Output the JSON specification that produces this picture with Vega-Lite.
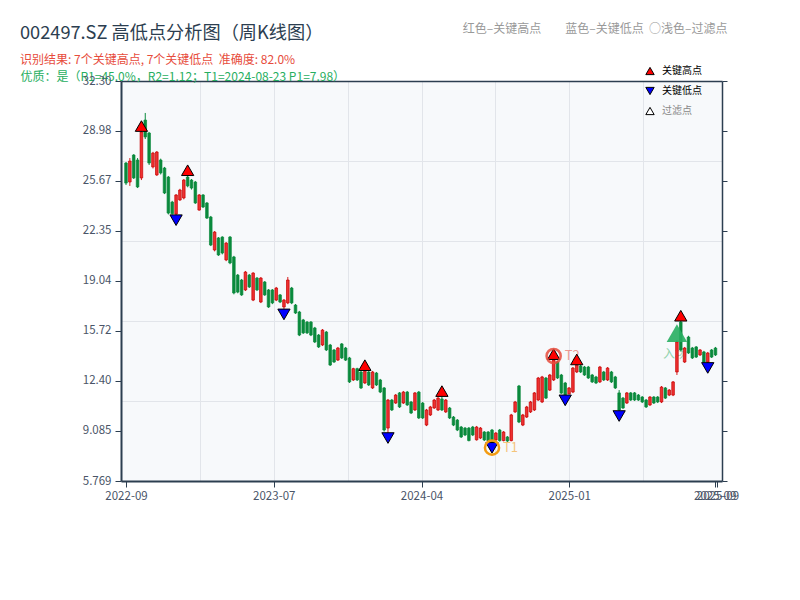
{
  "$schema": "https://vega.github.io/schema/vega-lite/v6.json",
  "width": 601,
  "height": 400,
  "autosize": {"type": "none"},
  "padding": {"left": 121, "top": 81, "right": 78, "bottom": 119},
  "background": "#ffffff",
  "config": {
    "font": "Noto Sans CJK SC",
    "view": {"fill": "#f7f9fb", "stroke": null},
    "axis": {"labelFont": "Noto Sans CJK SC", "titleFont": "Noto Sans CJK SC"}
  },
  "title": {
    "text": "002497.SZ 高低点分析图（周K线图）",
    "subtitle": "识别结果: 7个关键高点, 7个关键低点\u00a0\u00a0准确度: 82.0%",
    "anchor": "start",
    "frame": "group",
    "dx": -101,
    "dy": 60,
    "offset": 15,
    "font": "Noto Sans CJK SC",
    "fontSize": 18.2,
    "fontWeight": "normal",
    "color": "#2c3e50",
    "subtitleFont": "Noto Sans CJK SC",
    "subtitleFontSize": 12,
    "subtitleColor": "#e74c3c",
    "subtitlePadding": 12
  },
  "datasets": {
    "k": [
      {"i":0,"o":26.86,"h":26.93,"l":25.4,"c":25.53},
      {"i":1,"o":25.6,"h":27.19,"l":25.34,"c":26.99},
      {"i":2,"o":27.39,"h":27.45,"l":25.8,"c":25.87},
      {"i":3,"o":27.06,"h":27.19,"l":25.2,"c":25.27},
      {"i":4,"o":25.87,"h":28.98,"l":25.73,"c":28.92},
      {"i":5,"o":29.71,"h":30.18,"l":28.45,"c":28.59},
      {"i":6,"o":28.85,"h":28.92,"l":26.73,"c":26.86},
      {"i":7,"o":26.6,"h":27.6,"l":26.5,"c":27.52},
      {"i":8,"o":26.07,"h":27.65,"l":26.0,"c":27.59},
      {"i":9,"o":27.06,"h":27.15,"l":26.1,"c":26.2},
      {"i":10,"o":26.53,"h":26.6,"l":24.8,"c":24.87},
      {"i":11,"o":25.93,"h":26.0,"l":23.45,"c":23.54},
      {"i":12,"o":24.27,"h":24.35,"l":23.45,"c":23.5},
      {"i":13,"o":23.48,"h":24.8,"l":23.4,"c":24.74},
      {"i":14,"o":24.41,"h":25.15,"l":24.35,"c":25.07},
      {"i":15,"o":24.54,"h":25.8,"l":24.45,"c":25.73},
      {"i":16,"o":25.93,"h":26.05,"l":25.25,"c":25.34},
      {"i":17,"o":25.73,"h":25.8,"l":25.1,"c":25.2},
      {"i":18,"o":25.6,"h":25.67,"l":24.15,"c":24.21},
      {"i":19,"o":23.74,"h":24.8,"l":23.7,"c":24.74},
      {"i":20,"o":24.74,"h":24.8,"l":23.88,"c":23.94},
      {"i":21,"o":24.21,"h":24.27,"l":23.15,"c":23.21},
      {"i":22,"o":23.28,"h":23.35,"l":21.35,"c":21.42},
      {"i":23,"o":21.09,"h":22.35,"l":21.0,"c":22.28},
      {"i":24,"o":21.89,"h":21.95,"l":20.7,"c":20.76},
      {"i":25,"o":21.95,"h":22.0,"l":20.8,"c":20.89},
      {"i":26,"o":20.43,"h":21.62,"l":20.35,"c":21.55},
      {"i":27,"o":21.95,"h":22.02,"l":20.15,"c":20.23},
      {"i":28,"o":20.63,"h":20.7,"l":18.15,"c":18.24},
      {"i":29,"o":19.43,"h":19.5,"l":18.22,"c":18.3},
      {"i":30,"o":19.1,"h":19.17,"l":18.05,"c":18.11},
      {"i":31,"o":18.44,"h":19.7,"l":18.37,"c":19.63},
      {"i":32,"o":19.43,"h":19.5,"l":18.57,"c":18.64},
      {"i":33,"o":17.77,"h":19.62,"l":17.7,"c":19.56},
      {"i":34,"o":19.23,"h":19.3,"l":18.37,"c":18.44},
      {"i":35,"o":17.64,"h":19.3,"l":17.57,"c":19.23},
      {"i":36,"o":18.97,"h":19.03,"l":18.05,"c":18.11},
      {"i":37,"o":18.44,"h":18.5,"l":17.25,"c":17.31},
      {"i":38,"o":18.44,"h":18.5,"l":17.5,"c":17.58},
      {"i":39,"o":17.77,"h":18.64,"l":17.7,"c":18.57},
      {"i":40,"o":18.11,"h":18.17,"l":17.57,"c":17.64},
      {"i":41,"o":17.31,"h":17.84,"l":17.15,"c":17.77},
      {"i":42,"o":17.58,"h":19.3,"l":17.5,"c":19.1},
      {"i":43,"o":18.57,"h":18.64,"l":17.5,"c":17.58},
      {"i":44,"o":17.44,"h":17.51,"l":16.85,"c":16.91},
      {"i":45,"o":16.98,"h":17.05,"l":15.38,"c":15.45},
      {"i":46,"o":16.45,"h":16.52,"l":15.52,"c":15.59},
      {"i":47,"o":16.31,"h":16.38,"l":15.52,"c":15.59},
      {"i":48,"o":16.31,"h":16.38,"l":15.38,"c":15.45},
      {"i":49,"o":15.92,"h":15.99,"l":14.92,"c":14.99},
      {"i":50,"o":15.45,"h":15.52,"l":14.59,"c":14.66},
      {"i":51,"o":14.79,"h":15.85,"l":14.72,"c":15.78},
      {"i":52,"o":15.65,"h":15.72,"l":14.39,"c":14.46},
      {"i":53,"o":14.79,"h":14.86,"l":13.4,"c":13.46},
      {"i":54,"o":14.46,"h":14.52,"l":13.6,"c":13.66},
      {"i":55,"o":13.79,"h":14.66,"l":13.73,"c":14.59},
      {"i":56,"o":14.86,"h":14.92,"l":13.86,"c":13.93},
      {"i":57,"o":14.59,"h":14.66,"l":13.73,"c":13.79},
      {"i":58,"o":13.93,"h":14.0,"l":12.27,"c":12.34},
      {"i":59,"o":12.47,"h":13.28,"l":12.4,"c":13.22},
      {"i":60,"o":13.22,"h":13.28,"l":12.4,"c":12.47},
      {"i":61,"o":13.0,"h":13.07,"l":11.87,"c":11.94},
      {"i":62,"o":12.27,"h":13.12,"l":12.2,"c":13.05},
      {"i":63,"o":13.0,"h":13.07,"l":12.07,"c":12.14},
      {"i":64,"o":11.94,"h":13.07,"l":11.87,"c":13.0},
      {"i":65,"o":12.93,"h":13.0,"l":12.07,"c":12.14},
      {"i":66,"o":12.47,"h":12.54,"l":11.6,"c":11.67},
      {"i":67,"o":11.94,"h":12.0,"l":9.05,"c":9.15},
      {"i":68,"o":9.28,"h":11.21,"l":8.95,"c":11.14},
      {"i":69,"o":11.14,"h":11.21,"l":10.41,"c":10.48},
      {"i":70,"o":10.94,"h":11.54,"l":10.88,"c":11.47},
      {"i":71,"o":11.61,"h":11.67,"l":10.61,"c":10.68},
      {"i":72,"o":10.94,"h":11.74,"l":10.88,"c":11.67},
      {"i":73,"o":11.67,"h":11.74,"l":10.75,"c":10.81},
      {"i":74,"o":11.01,"h":11.08,"l":10.21,"c":10.28},
      {"i":75,"o":10.48,"h":11.67,"l":10.41,"c":11.61},
      {"i":76,"o":11.67,"h":11.74,"l":9.88,"c":9.95},
      {"i":77,"o":10.94,"h":11.01,"l":9.88,"c":9.95},
      {"i":78,"o":9.48,"h":10.55,"l":9.41,"c":10.48},
      {"i":79,"o":10.15,"h":10.75,"l":10.08,"c":10.68},
      {"i":80,"o":10.61,"h":11.21,"l":10.55,"c":11.14},
      {"i":81,"o":10.48,"h":11.34,"l":10.41,"c":11.27},
      {"i":82,"o":11.21,"h":11.4,"l":10.41,"c":10.48},
      {"i":83,"o":10.35,"h":11.21,"l":10.28,"c":11.14},
      {"i":84,"o":10.61,"h":10.68,"l":9.88,"c":9.95},
      {"i":85,"o":10.01,"h":10.08,"l":9.41,"c":9.48},
      {"i":86,"o":9.81,"h":9.88,"l":9.08,"c":9.15},
      {"i":87,"o":9.35,"h":9.42,"l":8.62,"c":8.69},
      {"i":88,"o":9.28,"h":9.35,"l":8.75,"c":8.82},
      {"i":89,"o":9.28,"h":9.35,"l":8.4,"c":8.45},
      {"i":90,"o":9.35,"h":9.42,"l":8.75,"c":8.82},
      {"i":91,"o":8.5,"h":9.42,"l":8.45,"c":9.35},
      {"i":92,"o":8.62,"h":9.35,"l":8.55,"c":9.28},
      {"i":93,"o":9.02,"h":9.08,"l":8.42,"c":8.49},
      {"i":94,"o":9.02,"h":9.08,"l":8.4,"c":8.45},
      {"i":95,"o":9.15,"h":9.22,"l":8.3,"c":8.36},
      {"i":96,"o":8.49,"h":9.02,"l":8.42,"c":8.95},
      {"i":97,"o":9.15,"h":9.22,"l":8.38,"c":8.45},
      {"i":98,"o":8.45,"h":9.08,"l":8.4,"c":9.02},
      {"i":99,"o":8.69,"h":8.75,"l":8.36,"c":8.42},
      {"i":100,"o":8.45,"h":10.22,"l":8.4,"c":10.15},
      {"i":101,"o":10.35,"h":11.08,"l":10.28,"c":11.01},
      {"i":102,"o":12.07,"h":12.14,"l":9.61,"c":9.68},
      {"i":103,"o":9.48,"h":10.22,"l":9.41,"c":10.15},
      {"i":104,"o":10.01,"h":10.75,"l":9.95,"c":10.68},
      {"i":105,"o":10.35,"h":11.08,"l":10.28,"c":11.01},
      {"i":106,"o":10.48,"h":11.67,"l":10.41,"c":11.61},
      {"i":107,"o":11.14,"h":12.67,"l":11.08,"c":12.6},
      {"i":108,"o":11.01,"h":12.74,"l":10.94,"c":12.67},
      {"i":109,"o":12.6,"h":12.67,"l":11.21,"c":11.27},
      {"i":110,"o":11.8,"h":12.87,"l":11.74,"c":12.8},
      {"i":111,"o":12.47,"h":13.85,"l":12.4,"c":13.8},
      {"i":112,"o":13.66,"h":13.73,"l":12.54,"c":12.6},
      {"i":113,"o":12.8,"h":12.87,"l":11.55,"c":11.6},
      {"i":114,"o":12.27,"h":12.34,"l":11.45,"c":11.5},
      {"i":115,"o":11.55,"h":12.0,"l":11.52,"c":11.94},
      {"i":116,"o":11.67,"h":13.33,"l":11.6,"c":13.26},
      {"i":117,"o":13.0,"h":13.5,"l":12.93,"c":13.46},
      {"i":118,"o":13.4,"h":13.46,"l":12.93,"c":13.0},
      {"i":119,"o":13.33,"h":13.4,"l":12.74,"c":12.8},
      {"i":120,"o":13.33,"h":13.4,"l":12.54,"c":12.6},
      {"i":121,"o":12.8,"h":12.87,"l":12.27,"c":12.34},
      {"i":122,"o":12.67,"h":12.74,"l":12.2,"c":12.27},
      {"i":123,"o":12.34,"h":13.4,"l":12.27,"c":13.33},
      {"i":124,"o":13.0,"h":13.07,"l":12.4,"c":12.47},
      {"i":125,"o":12.47,"h":13.33,"l":12.4,"c":13.26},
      {"i":126,"o":13.0,"h":13.07,"l":12.27,"c":12.34},
      {"i":127,"o":12.67,"h":12.74,"l":11.87,"c":11.94},
      {"i":128,"o":11.61,"h":11.8,"l":10.41,"c":10.48},
      {"i":129,"o":11.27,"h":11.34,"l":10.55,"c":10.61},
      {"i":130,"o":10.94,"h":11.67,"l":10.88,"c":11.61},
      {"i":131,"o":11.61,"h":11.67,"l":11.08,"c":11.14},
      {"i":132,"o":11.61,"h":11.67,"l":11.08,"c":11.14},
      {"i":133,"o":11.47,"h":11.54,"l":11.08,"c":11.14},
      {"i":134,"o":11.34,"h":11.4,"l":10.94,"c":11.01},
      {"i":135,"o":11.14,"h":11.21,"l":10.61,"c":10.68},
      {"i":136,"o":10.81,"h":11.4,"l":10.75,"c":11.34},
      {"i":137,"o":11.34,"h":11.4,"l":10.88,"c":10.94},
      {"i":138,"o":11.34,"h":11.4,"l":10.94,"c":11.01},
      {"i":139,"o":11.01,"h":12.07,"l":10.94,"c":12.0},
      {"i":140,"o":11.94,"h":12.0,"l":11.21,"c":11.27},
      {"i":141,"o":11.47,"h":11.87,"l":11.4,"c":11.8},
      {"i":142,"o":11.47,"h":12.4,"l":11.4,"c":12.34},
      {"i":143,"o":13.0,"h":15.1,"l":12.8,"c":14.99},
      {"i":144,"o":16.31,"h":16.4,"l":14.39,"c":14.46},
      {"i":145,"o":13.66,"h":14.66,"l":13.6,"c":14.59},
      {"i":146,"o":15.32,"h":15.4,"l":14.2,"c":14.26},
      {"i":147,"o":14.59,"h":14.66,"l":13.86,"c":13.93},
      {"i":148,"o":14.66,"h":14.72,"l":13.93,"c":13.99},
      {"i":149,"o":14.13,"h":14.52,"l":14.06,"c":14.46},
      {"i":150,"o":14.33,"h":14.4,"l":13.62,"c":13.66},
      {"i":151,"o":13.66,"h":14.33,"l":13.6,"c":14.26},
      {"i":152,"o":14.46,"h":14.52,"l":13.93,"c":13.99},
      {"i":153,"o":14.59,"h":14.66,"l":14.06,"c":14.13}
    ]
  },
  "resolve": {"axis": {"x": "independent", "y": "independent"}},
  "layer": [
    {
      "data": {"values": [{"i":95,"p":7.98,"t":"T1"},{"i":111,"p":14.06,"t":"T2"}]},
      "mark": {"type": "text", "align": "left", "baseline": "middle", "dx": 11, "fontSize": 13, "opacity": 0.55},
      "encoding": {
        "x": {"field": "i", "type": "quantitative", "scale": {"domain": [0, 153.4], "nice": false, "zero": false}, "axis": null},
        "y": {"field": "p", "type": "quantitative", "scale": {"domain": [5.769, 32.3], "nice": false, "zero": false}, "axis": null},
        "text": {"field": "t"},
        "color": {"field": "t", "type": "nominal", "scale": {"domain": ["T1", "T2"], "range": ["#f39c12", "#e74c3c"]}, "legend": null}
      }
    },
    {
      "data": {"values": [{"i":143,"p":15.58,"t":"入场"}]},
      "mark": {"type": "text", "align": "center", "baseline": "middle", "dy": 21, "dx": -2, "fontSize": 12, "color": "#27ae60", "opacity": 0.5},
      "encoding": {
        "x": {"field": "i", "type": "quantitative", "scale": {"domain": [0, 153.4], "nice": false, "zero": false}, "axis": null},
        "y": {"field": "p", "type": "quantitative", "scale": {"domain": [5.769, 32.3], "nice": false, "zero": false}, "axis": null},
        "text": {"field": "t"}
      }
    },
    {
      "data": {"name": "k"},
      "mark": {"type": "rule", "strokeWidth": 1},
      "encoding": {
        "x": {"field": "i", "type": "quantitative", "scale": {"domain": [0, 153.4], "nice": false, "zero": false},
          "axis": {"orient": "bottom", "values": [0, 38.35, 76.7, 115.05, 152.8, 153.5], "labelExpr": "datum.value < 1 ? '2022-09' : datum.value < 50 ? '2023-07' : datum.value < 90 ? '2024-04' : datum.value < 130 ? '2025-01' : '2025-09'", "grid": false, "title": null, "domainColor": "#2c3e50", "domainWidth": 2, "tickColor": "#2c3e50", "tickSize": 6, "tickWidth": 1, "labelFontSize": 11.5, "labelColor": "#4a5568", "labelPadding": 3, "labelFlush": false, "labelOverlap": false, "labelBound": false}},
        "y": {"field": "l", "type": "quantitative", "scale": {"domain": [5.769, 32.3], "nice": false, "zero": false},
          "axis": {"orient": "left", "values": [5.769, 9.0854, 12.4018, 15.7182, 19.0355, 22.3509, 25.6673, 28.9837, 32.3], "format": ".4r", "grid": false, "title": null, "domainColor": "#2c3e50", "domainWidth": 2, "tickColor": "#2c3e50", "tickSize": 6, "tickWidth": 1, "labelFontSize": 11.5, "labelColor": "#4a5568", "labelPadding": 4, "labelFlush": false, "labelOverlap": false}},
        "y2": {"field": "h"},
        "color": {"condition": {"test": "datum.c >= datum.o", "value": "#d81e1e"}, "value": "#0a8a3c"}
      }
    },
    {
      "data": {"name": "k"},
      "mark": {"type": "bar", "width": 2.6, "strokeWidth": 0.7},
      "encoding": {
        "x": {"field": "i", "type": "quantitative", "scale": {"domain": [0, 153.4], "nice": false, "zero": false},
          "axis": {"orient": "top", "values": [19.175, 38.35, 57.525, 76.7, 95.875, 115.05, 134.225], "grid": true, "gridColor": "#e2e5ea", "gridWidth": 1, "ticks": false, "labels": false, "domainColor": "#2c3e50", "domainWidth": 1.5,
            "title": "优质：是（R1=45.0%，R2=1.12；T1=2024-08-23 P1=7.98）", "titleX": -101, "titleY": -5, "titleAlign": "left", "titleBaseline": "middle", "titleAngle": 0, "titleFontSize": 12, "titleFontWeight": "normal", "titleColor": "#27ae60"}},
        "y": {"field": "o", "type": "quantitative", "scale": {"domain": [5.769, 32.3], "nice": false, "zero": false},
          "axis": {"orient": "right", "values": [5.769, 9.0854, 12.4018, 15.7182, 19.0355, 22.3509, 25.6673, 28.9837, 32.3], "grid": false, "labels": false, "ticks": true, "tickSize": 5, "tickColor": "#2c3e50", "domainColor": "#2c3e50", "domainWidth": 1.5,
            "title": "红色–关键高点\u3000\u3000蓝色–关键低点\u00a0\u00a0○浅色–过滤点", "titleX": 5, "titleY": -53, "titleAlign": "right", "titleBaseline": "middle", "titleAngle": 0, "titleFontSize": 12, "titleFontWeight": "normal", "titleColor": "#999999"}},
        "y2": {"field": "c"},
        "fill": {"condition": {"test": "datum.c >= datum.o", "value": "#ee3030"}, "value": "#0a8a3c"},
        "stroke": {"condition": {"test": "datum.c >= datum.o", "value": "#c40000"}, "value": "#0a8a3c"}
      }
    },
    {
      "data": {"values": [
        {"i":4,"p":28.98,"type":"关键高点"},{"i":16,"p":26.05,"type":"关键高点"},{"i":62,"p":13.12,"type":"关键高点"},{"i":82,"p":11.4,"type":"关键高点"},
        {"i":111,"p":13.85,"type":"关键高点"},{"i":117,"p":13.5,"type":"关键高点"},{"i":144,"p":16.4,"type":"关键高点"}
      ]},
      "mark": {"type": "point", "filled": true, "strokeWidth": 1, "size": 150, "opacity": 1, "yOffset": -5},
      "encoding": {
        "x": {"field": "i", "type": "quantitative", "scale": {"domain": [0, 153.4], "nice": false, "zero": false}, "axis": null},
        "y": {"field": "p", "type": "quantitative", "scale": {"domain": [5.769, 32.3], "nice": false, "zero": false},
          "axis": {"orient": "left", "values": [11.0752, 16.3814, 21.6876, 26.9938], "grid": true, "gridColor": "#e2e5ea", "gridWidth": 1, "ticks": false, "labels": false, "domain": false, "title": null}},
        "fill": {"field": "type", "type": "nominal", "scale": {"domain": ["关键高点", "关键低点", "过滤点"], "range": ["#ff0000", "#0000ff", "#ffffff"]},
          "legend": {"title": null, "orient": "none", "legendX": 524, "legendY": -15, "symbolSize": 70, "symbolStrokeWidth": 1, "labelFontSize": 10, "labelFont": "Noto Sans CJK SC", "labelColor": {"expr": "datum.label === '过滤点' ? '#888888' : '#000000'"}, "rowPadding": 8, "padding": 0, "labelOffset": 7}},
        "shape": {"field": "type", "type": "nominal", "scale": {"domain": ["关键高点", "关键低点", "过滤点"], "range": ["triangle-up", "triangle-down", "triangle-up"]},
          "legend": {"title": null, "orient": "none", "legendX": 524, "legendY": -15, "symbolSize": 70, "symbolStrokeWidth": 1, "labelFontSize": 10, "labelFont": "Noto Sans CJK SC", "labelColor": {"expr": "datum.label === '过滤点' ? '#888888' : '#000000'"}, "rowPadding": 8, "padding": 0, "labelOffset": 7}},
        "stroke": {"field": "type", "type": "nominal", "scale": {"domain": ["关键高点", "关键低点", "过滤点"], "range": ["#000000", "#000000", "#000000"]},
          "legend": {"title": null, "orient": "none", "legendX": 524, "legendY": -15, "symbolSize": 70, "symbolStrokeWidth": 1, "labelFontSize": 10, "labelFont": "Noto Sans CJK SC", "labelColor": {"expr": "datum.label === '过滤点' ? '#888888' : '#000000'"}, "rowPadding": 8, "padding": 0, "labelOffset": 7}}
      }
    },
    {
      "data": {"values": [
        {"i":13,"p":23.4,"type":"关键低点"},{"i":41,"p":17.15,"type":"关键低点"},{"i":68,"p":8.95,"type":"关键低点"},{"i":95,"p":8.3,"type":"关键低点"},
        {"i":114,"p":11.45,"type":"关键低点"},{"i":128,"p":10.41,"type":"关键低点"},{"i":151,"p":13.6,"type":"关键低点"}
      ]},
      "mark": {"type": "point", "filled": true, "strokeWidth": 1, "size": 150, "opacity": 1, "yOffset": 5},
      "encoding": {
        "x": {"field": "i", "type": "quantitative", "scale": {"domain": [0, 153.4], "nice": false, "zero": false}, "axis": null},
        "y": {"field": "p", "type": "quantitative", "scale": {"domain": [5.769, 32.3], "nice": false, "zero": false}, "axis": null},
        "fill": {"field": "type", "type": "nominal"},
        "shape": {"field": "type", "type": "nominal"},
        "stroke": {"field": "type", "type": "nominal"}
      }
    },
    {
      "data": {"values": [{"i":95,"p":7.98}]},
      "mark": {"type": "point", "shape": "circle", "filled": false, "stroke": "#f39c12", "strokeWidth": 2.5, "size": 200, "opacity": 1},
      "encoding": {
        "x": {"field": "i", "type": "quantitative", "scale": {"domain": [0, 153.4], "nice": false, "zero": false}, "axis": null},
        "y": {"field": "p", "type": "quantitative", "scale": {"domain": [5.769, 32.3], "nice": false, "zero": false}, "axis": null}
      }
    },
    {
      "data": {"values": [{"i":111,"p":14.06}]},
      "mark": {"type": "point", "shape": "circle", "filled": false, "stroke": "#e74c3c", "strokeWidth": 2.5, "size": 200, "opacity": 0.85},
      "encoding": {
        "x": {"field": "i", "type": "quantitative", "scale": {"domain": [0, 153.4], "nice": false, "zero": false}, "axis": null},
        "y": {"field": "p", "type": "quantitative", "scale": {"domain": [5.769, 32.3], "nice": false, "zero": false}, "axis": null}
      }
    },
    {
      "data": {"values": [{"i":143,"p":15.58}]},
      "mark": {"type": "point", "shape": "triangle-up", "filled": true, "fill": "#27ae60", "strokeWidth": 0, "size": 420, "opacity": 0.9},
      "encoding": {
        "x": {"field": "i", "type": "quantitative", "scale": {"domain": [0, 153.4], "nice": false, "zero": false}, "axis": null},
        "y": {"field": "p", "type": "quantitative", "scale": {"domain": [5.769, 32.3], "nice": false, "zero": false}, "axis": null}
      }
    }
  ]
}
